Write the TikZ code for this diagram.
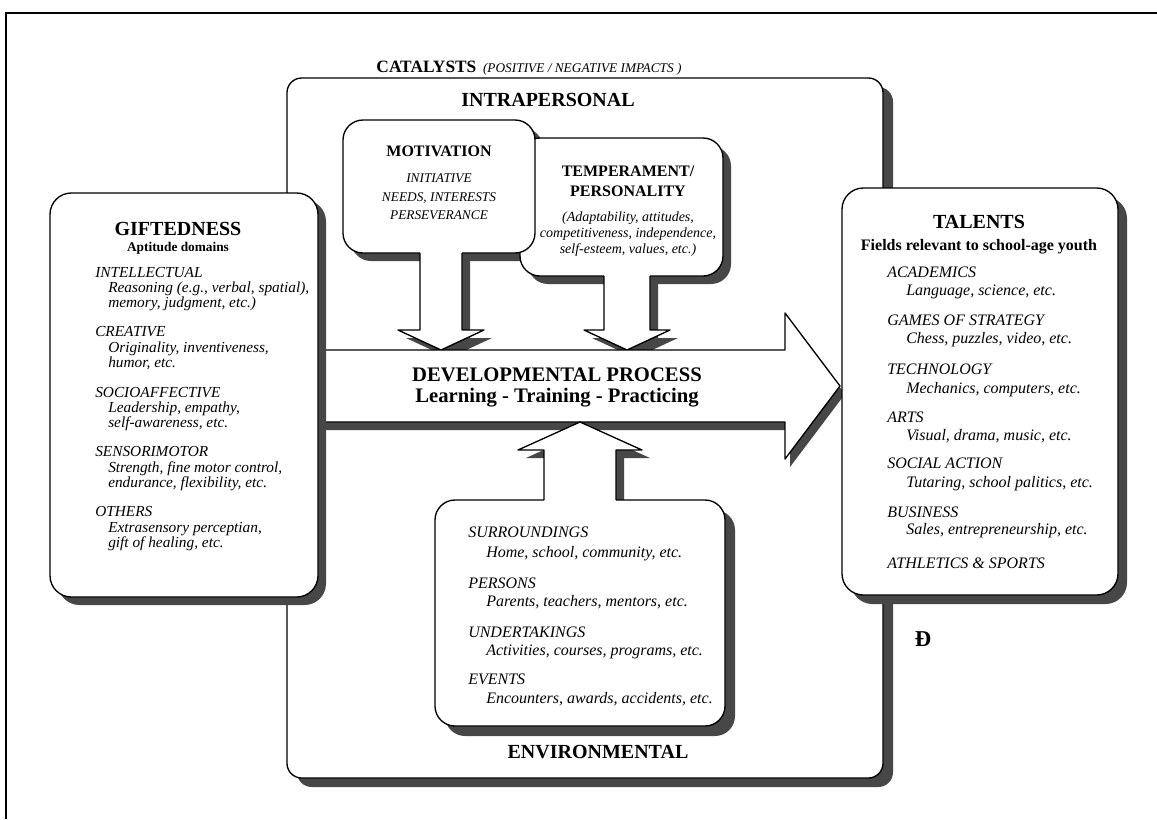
\documentclass[tikz,border=0pt]{standalone}
\usepackage{fontspec}
\setmainfont{Liberation Serif}
\begin{document}
\begin{tikzpicture}[x=0.75pt,y=-0.75pt,
  shade/.style={fill=black!72,draw=none},
  wfill/.style={fill=white,draw=none},
  ln/.style={draw=black,line width=1pt,line join=round},
  bighd/.style={font=\bfseries\fontsize{15}{17}\selectfont,inner sep=0,anchor=base},
  midhd/.style={font=\bfseries\fontsize{12}{14}\selectfont,inner sep=0,anchor=base},
  subhd/.style={font=\bfseries\fontsize{#1}{13}\selectfont,inner sep=0,anchor=base},
  itl/.style={font=\itshape\fontsize{#1}{13}\selectfont,inner sep=0,anchor=base west},
  itc/.style={font=\itshape\fontsize{#1}{13}\selectfont,inner sep=0,anchor=base},
]
\useasboundingbox (0,0) rectangle (1157,819);
% outer frame
\draw[line width=1pt] (6,819) -- (6,13) -- (1157,13);

% catalysts frame
\path[shade,rounded corners=11pt] (297,87) rectangle (893,787);
\path[wfill,rounded corners=11pt] (287,78) rectangle (883,778);
\draw[ln,rounded corners=11pt] (287,78) rectangle (883,778);

% shadows of motivation / temperament
\path[shade,rounded corners=15pt] (351,128) rectangle (543,261);
\path[shade] (428,258) -- (428,338) -- (406,338) -- (449,358) -- (492,338) -- (470,338) -- (470,258) -- cycle;
\path[shade,rounded corners=15pt] (528,146) rectangle (731,284);
\path[shade] (612,280) -- (612,338) -- (592,338) -- (635,358) -- (678,338) -- (658,338) -- (658,280) -- cycle;
% temperament
\path[wfill,rounded corners=15pt] (520,138) rectangle (723,276);
\path[wfill] (604,270) -- (604,330) -- (584,330) -- (627,350) -- (670,330) -- (650,330) -- (650,270) -- cycle;
\draw[ln,rounded corners=15pt] (650,276) -- (723,276) -- (723,138) -- (520,138) -- (520,276) -- (604,276);
\draw[ln] (604,276) -- (604,330) -- (584,330) -- (627,350) -- (670,330) -- (650,330) -- (650,276);
% motivation
\path[wfill,rounded corners=15pt] (343,120) rectangle (535,253);
\path[wfill] (420,248) -- (420,330) -- (398,330) -- (441,350) -- (484,330) -- (462,330) -- (462,248) -- cycle;
\draw[ln,rounded corners=15pt] (462,253) -- (535,253) -- (535,120) -- (343,120) -- (343,253) -- (420,253);
\draw[ln] (420,253) -- (420,330) -- (398,330) -- (441,350) -- (484,330) -- (462,330) -- (462,253);

% developmental arrow
\path[shade] (300,358) -- (790,358) -- (790,321) -- (845,394) -- (790,467) -- (790,430) -- (300,430) -- cycle;
\path[wfill] (295,350) -- (785,350) -- (785,313) -- (840,386) -- (785,459) -- (785,422) -- (295,422) -- cycle;
\draw[ln] (295,350) -- (785,350) -- (785,313) -- (840,386) -- (785,459) -- (785,422) -- (295,422) -- cycle;

% environmental box with up arrow
\path[shade,rounded corners=15pt] (445,510) rectangle (735,736);
\path[shade] (552,508) -- (552,458) -- (526,458) -- (588,430) -- (650,458) -- (624,458) -- (624,508) -- cycle;
\path[wfill,rounded corners=15pt] (435,500) rectangle (725,726);
\path[wfill] (544,505) -- (544,450) -- (518,450) -- (580,422) -- (642,450) -- (616,450) -- (616,505) -- cycle;
\draw[ln,rounded corners=15pt] (616,500) -- (725,500) -- (725,726) -- (435,726) -- (435,500) -- (544,500);
\draw[ln] (544,500) -- (544,450) -- (518,450) -- (580,422) -- (642,450) -- (616,450) -- (616,500);

% giftedness box
\path[shade,rounded corners=16pt] (58,200) rectangle (326,605);
\path[wfill,rounded corners=16pt] (50,193) rectangle (318,597);
\draw[ln,rounded corners=16pt] (50,193) rectangle (318,597);

% talents box
\path[shade,rounded corners=16pt] (851,197) rectangle (1127,604);
\path[wfill,rounded corners=16pt] (842,188) rectangle (1118,595);
\draw[ln,rounded corners=16pt] (842,188) rectangle (1118,595);

% ---- texts ----
\node[anchor=base,inner sep=0] (cat) at (529,72) {\fontsize{13}{15}\selectfont\bfseries CATALYSTS\hspace{5pt}\fontsize{10}{12}\selectfont\mdseries\itshape (POSITIVE / NEGATIVE IMPACTS )};
\node[bighd] (intra) at (548,106) {INTRAPERSONAL};

\node[midhd] (mot) at (439,156) {MOTIVATION};
\node[itc=10] (m1) at (439,182) {INITIATIVE};
\node[itc=10] (m2) at (439,201) {NEEDS, INTERESTS};
\node[itc=10] (m3) at (439,219) {PERSEVERANCE};

\node[midhd] (tem1) at (628,176) {TEMPERAMENT/};
\node[midhd] (tem2) at (628,196) {PERSONALITY};
\node[itc=10.5] (t1) at (628,221) {(Adaptability, attitudes,};
\node[itc=10.5] (t2) at (628,237) {competitiveness, independence,};
\node[itc=10.5] (t3) at (628,253) {self-esteem, values, etc.)};

\node[bighd,font=\bfseries\fontsize{15.5}{17}\selectfont] (dev1) at (557,381) {DEVELOPMENTAL PROCESS};
\node[bighd,font=\bfseries\fontsize{15.5}{17}\selectfont] (dev2) at (557,402) {Learning - Training - Practicing};

\node[bighd] (gift) at (178,235) {GIFTEDNESS};
\node[subhd=10] (gift2) at (178,251) {Aptitude domains};
\node[itl=11.5] (g1) at (95,277) {INTELLECTUAL};
\node[itl=11.5] (g1a) at (108,292) {Reasoning (e.g., verbal, spatial),};
\node[itl=11.5] (g1b) at (108,307) {memory, judgment, etc.)};
\node[itl=11.5] (g2) at (95,336) {CREATIVE};
\node[itl=11.5] (g2a) at (108,352) {Originality, inventiveness,};
\node[itl=11.5] (g2b) at (108,367) {humor, etc.};
\node[itl=11.5] (g3) at (95,397) {SOCIOAFFECTIVE};
\node[itl=11.5] (g3a) at (108,412) {Leadership, empathy,};
\node[itl=11.5] (g3b) at (108,427) {self-awareness, etc.};
\node[itl=11.5] (g4) at (95,456) {SENSORIMOTOR};
\node[itl=11.5] (g4a) at (108,472) {Strength, fine motor control,};
\node[itl=11.5] (g4b) at (108,487) {endurance, flexibility, etc.};
\node[itl=11.5] (g5) at (95,516) {OTHERS};
\node[itl=11.5] (g5a) at (108,532) {Extrasensory perceptian,};
\node[itl=11.5] (g5b) at (108,547) {gift of healing, etc.};

\node[bighd] (tal) at (979,228) {TALENTS};
\node[subhd=12] (tal2) at (979,250) {Fields relevant to school-age youth};
\node[itl=12] (r1) at (887,277) {ACADEMICS};
\node[itl=12] (r1a) at (906,295) {Language, science, etc.};
\node[itl=12] (r2) at (887,325) {GAMES OF STRATEGY};
\node[itl=12] (r2a) at (906,343) {Chess, puzzles, video, etc.};
\node[itl=12] (r3) at (887,374) {TECHNOLOGY};
\node[itl=12] (r3a) at (906,393) {Mechanics, computers, etc.};
\node[itl=12] (r4) at (887,422) {ARTS};
\node[itl=12] (r4a) at (906,440) {Visual, drama, music, etc.};
\node[itl=12] (r5) at (887,468) {SOCIAL ACTION};
\node[itl=12] (r5a) at (906,487) {Tutaring, school palitics, etc.};
\node[itl=12] (r6) at (887,517) {BUSINESS};
\node[itl=12] (r6a) at (906,534) {Sales, entrepreneurship, etc.};
\node[itl=12] (r7) at (887,568) {ATHLETICS \& SPORTS};

\node[itl=12] (e1) at (468,537) {SURROUNDINGS};
\node[itl=12] (e1a) at (486,557) {Home, school, community, etc.};
\node[itl=12] (e2) at (468,588) {PERSONS};
\node[itl=12] (e2a) at (486,606) {Parents, teachers, mentors, etc.};
\node[itl=12] (e3) at (468,637) {UNDERTAKINGS};
\node[itl=12] (e3a) at (486,655) {Activities, courses, programs, etc.};
\node[itl=12] (e4) at (468,684) {EVENTS};
\node[itl=12] (e4a) at (486,703) {Encounters, awards, accidents, etc.};
\node[bighd] (env) at (598,758) {ENVIRONMENTAL};

\node[anchor=base,inner sep=0,font=\bfseries\fontsize{17}{17}\selectfont] (logo) at (923,646) {Ð};
\end{tikzpicture}
\end{document}
